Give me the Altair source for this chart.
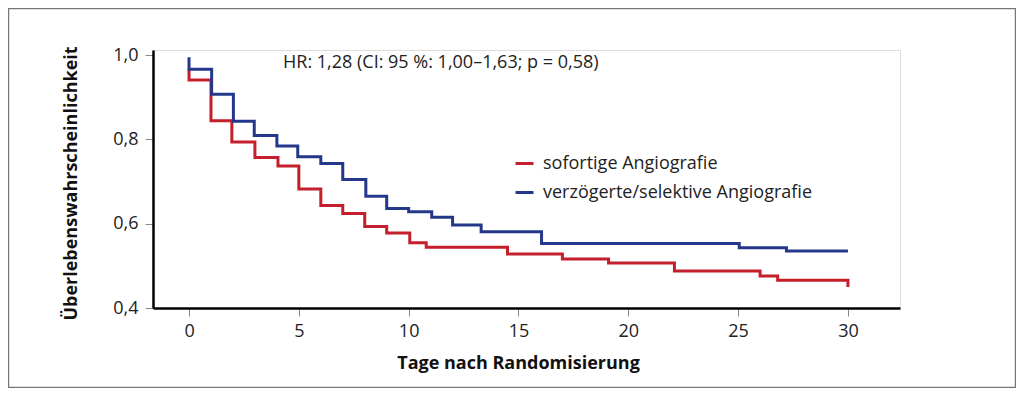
import altair as alt
import pandas as pd

# Kaplan-Meier step data
red_name = "sofortige Angiografie"
blue_name = "verzögerte/selektive Angiografie"

red_days = [0, 0, 1, 1.95, 3, 4.05, 5, 6, 7, 8, 9, 10.05, 10.8, 14.5, 17, 19.1, 22.1, 26, 26.8, 30, 30]
red_surv = [0.966, 0.941, 0.844, 0.794, 0.757, 0.737, 0.682, 0.643, 0.624, 0.593, 0.578, 0.555,
            0.544, 0.528, 0.516, 0.507, 0.488, 0.476, 0.466, 0.466, 0.450]

blue_days = [0, 0, 1.03, 2.02, 2.97, 4, 4.95, 6, 7, 8.05, 9, 10, 11.05, 12, 13.3, 16.05, 25.05, 27.2, 30]
blue_surv = [0.995, 0.966, 0.907, 0.843, 0.809, 0.784, 0.759, 0.743, 0.705, 0.665, 0.636, 0.628,
             0.615, 0.597, 0.581, 0.553, 0.543, 0.535, 0.535]

x_ticks = [0, 5, 10, 15, 20, 25, 30]
y_ticks = [0.4, 0.6, 0.8, 1.0]

annotation = "HR: 1,28 (CI: 95 %: 1,00–1,63; p = 0,58)"
x_title = "Tage nach Randomisierung"
y_title = "Überlebenswahrscheinlichkeit"

RED = "#c41f2b"
BLUE = "#24388a"
FONT = "Open Sans"

rows = []
for i, (d, s) in enumerate(zip(red_days, red_surv)):
    rows.append({"tag": d, "surv": s, "gruppe": red_name, "ord": i})
for i, (d, s) in enumerate(zip(blue_days, blue_surv)):
    rows.append({"tag": d, "surv": s, "gruppe": blue_name, "ord": i})
df = pd.DataFrame(rows)

lines = alt.Chart(df).mark_line(interpolate="step-after", strokeWidth=3).encode(
    x=alt.X("tag:Q",
            scale=alt.Scale(domain=[-1.64, 32.37], nice=False, zero=False),
            axis=alt.Axis(values=x_ticks, title=x_title, grid=False,
                          domainColor="black", domainWidth=2.5,
                          tickColor="#888", tickSize=8, tickWidth=1,
                          labelFont=FONT, labelFontSize=18, labelColor="#222",
                          labelPadding=6,
                          titleFont=FONT, titleFontSize=18, titleFontWeight="bold",
                          titleColor="#111", titleX=365, titleY=60,
                          titleAlign="center", titleBaseline="alphabetic")),
    y=alt.Y("surv:Q",
            scale=alt.Scale(domain=[0.4, 1.0119], nice=False, zero=False),
            axis=alt.Axis(values=y_ticks, title=y_title, grid=False,
                          labelExpr="replace(format(datum.value, '.1f'), '.', ',')",
                          domainColor="black", domainWidth=2.5,
                          tickColor="#888", tickSize=8, tickWidth=1,
                          labelFont=FONT, labelFontSize=18, labelColor="#222",
                          labelPadding=7,
                          titleFont=FONT, titleFontSize=18, titleFontWeight="bold",
                          titleColor="#111", titleAngle=-90, titleX=-77, titleY=133,
                          titleAlign="center", titleBaseline="alphabetic")),
    color=alt.Color("gruppe:N",
                    scale=alt.Scale(domain=[red_name, blue_name], range=[RED, BLUE]),
                    legend=alt.Legend(title=None, orient="none", legendX=361, legendY=103,
                                      symbolType="stroke", symbolSize=324,
                                      symbolStrokeWidth=3, labelFont=FONT,
                                      labelFontSize=18, labelColor="#222",
                                      labelLimit=0, labelOffset=8, rowPadding=9)),
    order="ord:Q",
)

note = alt.Chart(pd.DataFrame({"t": [annotation]})).mark_text(
    align="left", baseline="alphabetic", font=FONT, fontSize=18, color="#222"
).encode(x=alt.value(130), y=alt.value(18), text="t:N")

frame = alt.Chart(pd.DataFrame({"a": [0]})).mark_rect(
    fill=None, filled=False, stroke="#777", strokeWidth=1.5
).encode(x=alt.value(-144.5), x2=alt.value(862.5), y=alt.value(-41.5), y2=alt.value(337.5))

chart = alt.layer(frame, lines, note).properties(
    width=747, height=258,
    autosize=alt.AutoSizeParams(type="none"),
    padding={"left": 145, "top": 42, "right": 116, "bottom": 80},
).configure_view(strokeWidth=0).configure(background="white")

chart.save("out.html", embed_options={"renderer": "svg", "actions": False})
